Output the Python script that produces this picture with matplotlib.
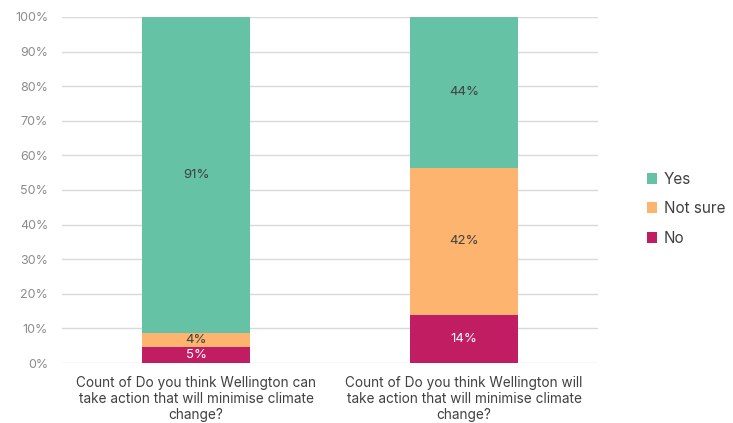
import matplotlib
matplotlib.use('Agg')
import matplotlib.pyplot as plt
import numpy as np

plt.rcParams['font.family'] = ['Inter', 'DejaVu Sans']

categories = [
    'Count of Do you think Wellington can\ntake action that will minimise climate\nchange?',
    'Count of Do you think Wellington will\ntake action that will minimise climate\nchange?',
]
series_names = ['No', 'Not sure', 'Yes']
no_vals = [4.6, 13.9]
not_sure_vals = [4.1, 42.5]
yes_vals = [91.3, 43.6]
bar_labels = {
    'No': ['5%', '14%'],
    'Not sure': ['4%', '42%'],
    'Yes': ['91%', '44%'],
}
yticks = [0, 10, 20, 30, 40, 50, 60, 70, 80, 90, 100]

colors = {'Yes': '#66C2A5', 'Not sure': '#FDB46F', 'No': '#C01D63'}
text_colors = {'Yes': '#404040', 'Not sure': '#404040', 'No': 'white'}

fig = plt.figure(figsize=(7.33, 4.23), dpi=100)
ax = fig.add_axes([0.0846, 0.1418, 0.7314, 0.8182])

x = np.arange(len(categories))
bottom = np.zeros(len(categories))
handles = {}
for name, vals in zip(series_names, [no_vals, not_sure_vals, yes_vals]):
    vals = np.array(vals)
    bars = ax.bar(x, vals, 0.4, bottom=bottom, color=colors[name], label=name, zorder=3)
    handles[name] = bars
    for xi, b, v, lab in zip(x, bottom, vals, bar_labels[name]):
        ax.text(xi, b + v / 2, lab, ha='center', va='center', fontsize=9.5,
                color=text_colors[name], zorder=4)
    bottom = bottom + vals

ax.set_xlim(-0.5, 1.5)
ax.set_ylim(0, 100)
ax.set_yticks(yticks)
ax.set_yticklabels([f'{t}%' for t in yticks], fontsize=9, color='#8C8C8C')
ax.set_xticks(x)
ax.set_xticklabels(categories, fontsize=9.8, color='#404040', linespacing=1.22)
ax.tick_params(axis='x', length=0, pad=9)
ax.tick_params(axis='y', length=0, pad=10)
ax.grid(axis='y', color='#D9D9D9', linewidth=1, zorder=0)
for s in ax.spines.values():
    s.set_visible(False)

leg = fig.legend([handles['Yes'], handles['Not sure'], handles['No']],
                 ['Yes', 'Not sure', 'No'], loc='center left',
                 bbox_to_anchor=(0.882, 0.507), frameon=False, fontsize=11,
                 handlelength=0.7, handleheight=0.7, labelspacing=0.95,
                 handletextpad=0.45, borderpad=0, borderaxespad=0)
for t in leg.get_texts():
    t.set_color('#404040')

fig.savefig('out.png', dpi=100)
